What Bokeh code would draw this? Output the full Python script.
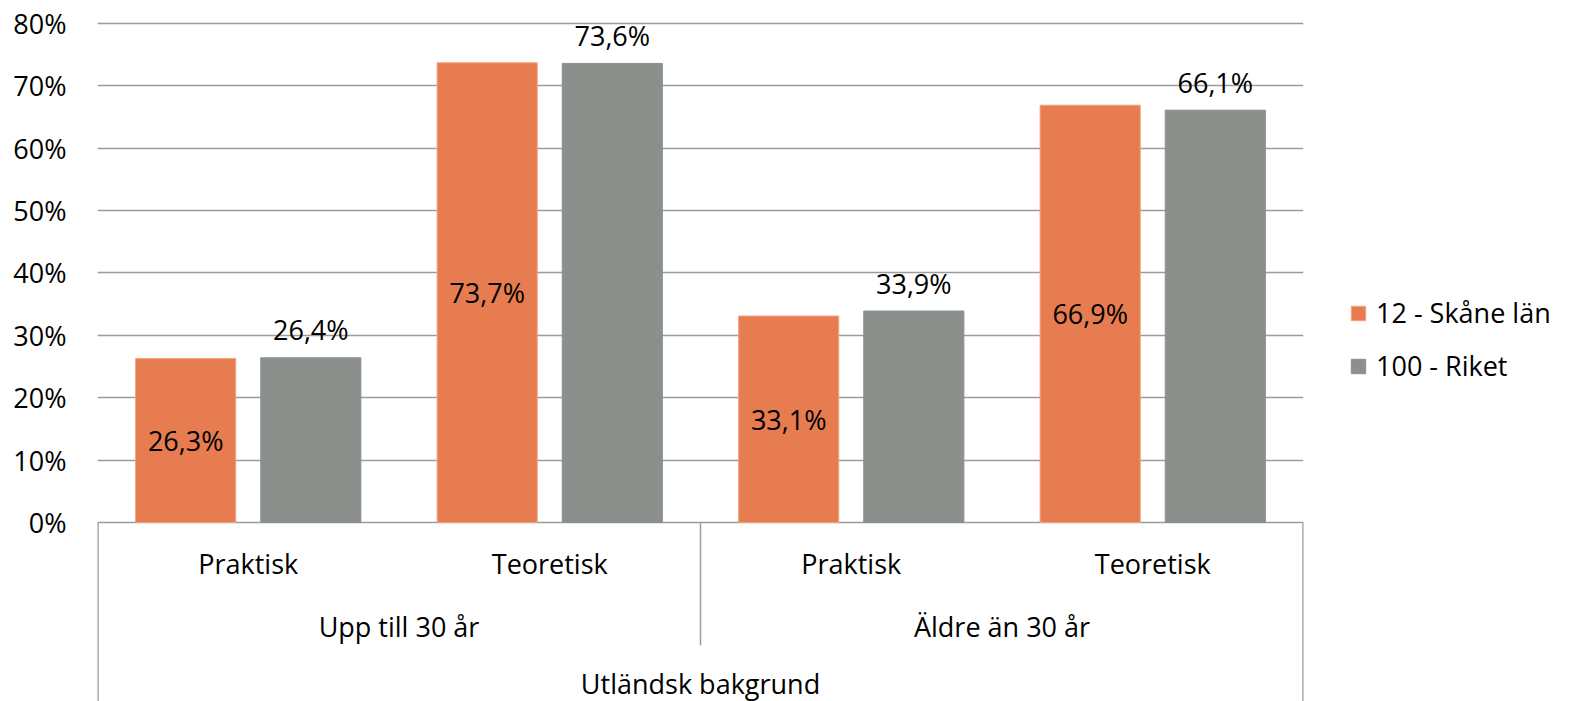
from bokeh.plotting import figure
from bokeh.models import (ColumnDataSource, Range1d, FixedTicker, PrintfTickFormatter,
                          Legend, LegendItem)
from bokeh.core.properties import value
from bokeh.embed import file_html
from bokeh.resources import INLINE

# ---- data ----
edu_types = ["Praktisk", "Teoretisk", "Praktisk", "Teoretisk"]
age_groups = ["Upp till 30 år", "Äldre än 30 år"]
top_group = "Utländsk bakgrund"
series_names = ["12 - Skåne län", "100 - Riket"]
skane = [26.3, 73.7, 33.1, 66.9]
riket = [26.4, 73.6, 33.9, 66.1]
y_ticks = [0, 10, 20, 30, 40, 50, 60, 70, 80]

ORANGE = "#E67C4F"
GRAY = "#8B908D"
GRID = "#9C9C9C"
FONT = "Open Sans"
FS = "27px"

n = len(edu_types)
centers = [i + 0.5 for i in range(n)]
off = 0.2075
bw = 0.332

def fmt(v):
    return f"{v:.1f}".replace(".", ",") + "%"

src_s = ColumnDataSource(dict(x=[c - off for c in centers], top=skane,
                              mid=[v / 2 for v in skane], lab=[fmt(v) for v in skane]))
src_r = ColumnDataSource(dict(x=[c + off for c in centers], top=riket,
                              lab=[fmt(v) for v in riket]))

p = figure(frame_width=1206, frame_height=688, output_backend="svg", toolbar_location=None,
           x_range=Range1d(0, n), y_range=Range1d(-28.7, 81.6),
           min_border_left=97, min_border_right=0, min_border_top=13, min_border_bottom=0)
p.outline_line_color = None
p.background_fill_color = "white"
p.border_fill_color = "white"

p.xaxis.visible = False
p.xgrid.visible = False
p.ygrid.ticker = FixedTicker(ticks=y_ticks)
p.ygrid.grid_line_color = GRID
p.ygrid.grid_line_width = 1.5

ya = p.yaxis[0]
ya.ticker = FixedTicker(ticks=y_ticks)
ya.formatter = PrintfTickFormatter(format="%d%%")
ya.axis_line_color = None
ya.major_tick_line_color = None
ya.minor_tick_line_color = None
ya.major_tick_out = 0
ya.major_label_standoff = 31
ya.major_label_text_font = FONT
ya.major_label_text_font_size = FS
ya.major_label_text_color = "black"

r1 = p.vbar(x="x", top="top", bottom=0, width=bw, source=src_s, fill_color=ORANGE,
            line_color="#F2A27F", line_width=1)
r2 = p.vbar(x="x", top="top", bottom=0, width=bw, source=src_r, fill_color=GRAY,
            line_color=GRAY, line_width=1)

p.text(x="x", y="mid", text="lab", source=src_s, text_align="center",
       text_baseline="middle", text_font=value(FONT), text_font_size=FS, text_color="black")
p.text(x="x", y="top", text="lab", source=src_r, text_align="center",
       text_baseline="middle", y_offset=-28, text_font=value(FONT),
       text_font_size=FS, text_color="black")

# multi-level category axis
p.text(x=centers, y=[0] * n, text=edu_types, y_offset=41, text_align="center",
       text_baseline="middle", text_font=value(FONT), text_font_size=FS, text_color="black")
g_centers = [1.0 + 2 * i for i in range(len(age_groups))]
p.text(x=g_centers, y=[0] * len(g_centers), text=age_groups, y_offset=104,
       text_align="center", text_baseline="middle", text_font=value(FONT),
       text_font_size=FS, text_color="black")
p.text(x=[n / 2], y=[0], text=[top_group], y_offset=161, text_align="center",
       text_baseline="middle", text_font=value(FONT), text_font_size=FS, text_color="black")

p.segment(x0=[0, n], y0=[0, 0], x1=[0, n], y1=[-30, -30], line_color=GRID, line_width=2.5)
p.segment(x0=[2], y0=[0], x1=[2], y1=[-19.7], line_color=GRID, line_width=1.5)

legend = Legend(items=[LegendItem(label=series_names[0], renderers=[r1]),
                       LegendItem(label=series_names[1], renderers=[r2])],
                location=(46, 317), orientation="vertical")
legend.border_line_color = None
legend.background_fill_alpha = 0
legend.margin = 0
legend.padding = 0
legend.glyph_width = 18
legend.glyph_height = 18
legend.label_standoff = 9
legend.spacing = 16
legend.label_text_font = FONT
legend.label_text_font_size = FS
legend.label_text_color = "black"
p.add_layout(legend, "right")

open("out.html", "w").write(file_html(p, INLINE))
